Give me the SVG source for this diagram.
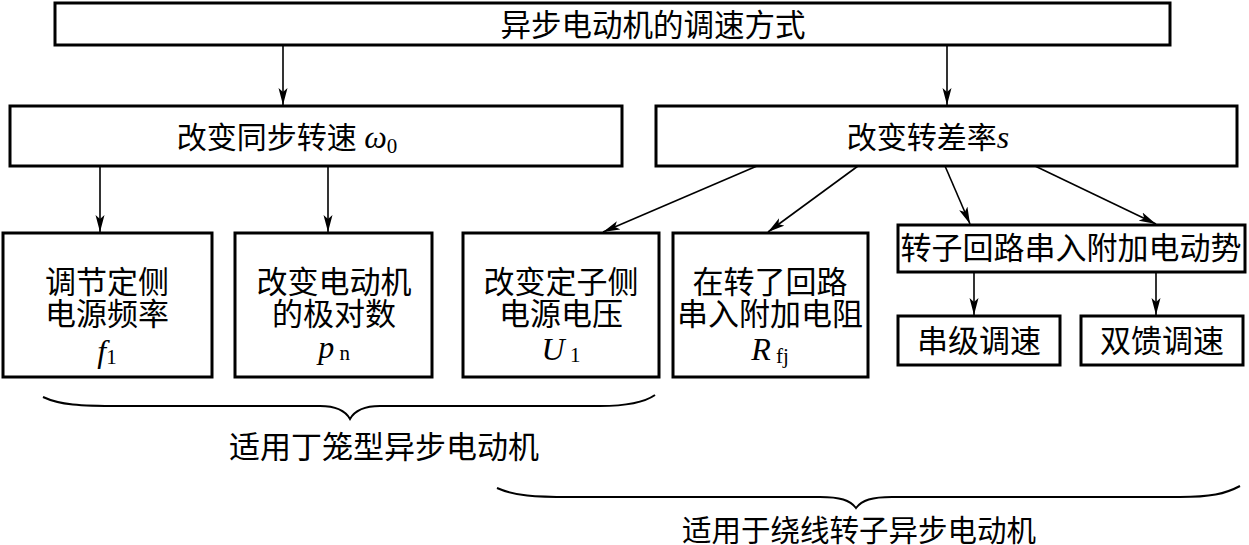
<svg xmlns="http://www.w3.org/2000/svg" width="1249" height="545" viewBox="0 0 1249 545">
<defs>
<marker id="ah" markerUnits="userSpaceOnUse" markerWidth="18" markerHeight="10" refX="17" refY="5" orient="auto">
<path d="M0,0.5 L17,5 L0,9.5 L4,5 z" fill="#000"/>
</marker>
<style>
.box{fill:#fff;stroke:#000;stroke-width:3}
.t{font-family:"Liberation Serif","Noto Sans CJK SC",serif;fill:#000;text-anchor:middle}
.c{stroke:#000;stroke-width:1.6;fill:none;marker-end:url(#ah)}
.br{stroke:#000;stroke-width:2;fill:none}
.i{font-style:italic}
</style>
</defs>
<rect width="1249" height="545" fill="#fff"/>
<g id="connectors">
<line class="c" x1="283" y1="45" x2="283" y2="105"/>
<line class="c" x1="947" y1="45" x2="947" y2="105"/>
<line class="c" x1="100" y1="166" x2="100" y2="232"/>
<line class="c" x1="328" y1="166" x2="328" y2="232"/>
<line class="c" x1="757" y1="166" x2="603" y2="232"/>
<line class="c" x1="858" y1="166" x2="768" y2="232"/>
<line class="c" x1="945" y1="166" x2="970" y2="224"/>
<line class="c" x1="1035" y1="166" x2="1156" y2="224"/>
<line class="c" x1="974" y1="272" x2="974" y2="315"/>
<line class="c" x1="1156" y1="272" x2="1156" y2="315"/>
</g>
<g id="root">
<rect class="box" x="55" y="3" width="1115" height="42"/>
<text class="t" x="653" y="36" font-size="30.5">异步电动机的调速方式</text>
</g>
<g id="sync">
<rect class="box" x="10" y="106" width="612" height="60"/>
<text class="t" x="287" y="148" font-size="30">改变同步转速 <tspan class="i" font-size="32">ω</tspan><tspan font-size="21" dy="5">0</tspan></text>
</g>
<g id="slip">
<rect class="box" x="656" y="106" width="581" height="60"/>
<text class="t" x="928" y="148" font-size="30">改变转差率<tspan class="i" font-size="32">s</tspan></text>
</g>
<g id="freq">
<rect class="box" x="3" y="233" width="209" height="144"/>
<text class="t" x="107" y="293" font-size="31">调节定侧</text>
<text class="t" x="107" y="325" font-size="31">电源频率</text>
<text class="t" x="107" y="362" font-size="32"><tspan class="i">f</tspan><tspan font-size="21" dy="2">1</tspan></text>
</g>
<g id="poles">
<rect class="box" x="235" y="233" width="197" height="144"/>
<text class="t" x="334" y="293" font-size="31">改变电动机</text>
<text class="t" x="334" y="325" font-size="31">的极对数</text>
<text class="t" x="334" y="358" font-size="32"><tspan class="i">p</tspan><tspan font-size="21" dy="2"> n</tspan></text>
</g>
<g id="voltage">
<rect class="box" x="463" y="233" width="196" height="144"/>
<text class="t" x="561" y="293" font-size="31">改变定子侧</text>
<text class="t" x="561" y="325" font-size="31">电源电压</text>
<text class="t" x="561" y="360" font-size="32"><tspan class="i">U</tspan><tspan font-size="21" dy="2"> 1</tspan></text>
</g>
<g id="resistor">
<rect class="box" x="673" y="233" width="195" height="144"/>
<text class="t" x="770" y="293" font-size="31">在转了回路</text>
<text class="t" x="770" y="325" font-size="31">串入附加电阻</text>
<text class="t" x="770" y="360" font-size="32"><tspan class="i">R</tspan><tspan font-size="21" dy="3"> fj</tspan></text>
</g>
<g id="emf">
<rect class="box" x="898" y="225" width="347" height="47"/>
<text class="t" x="1071" y="259" font-size="31">转子回路串入附加电动势</text>
</g>
<g id="cascade">
<rect class="box" x="898" y="316" width="162" height="49"/>
<text class="t" x="979" y="352" font-size="31">串级调速</text>
</g>
<g id="dfed">
<rect class="box" x="1081" y="316" width="162" height="49"/>
<text class="t" x="1162" y="352" font-size="31">双馈调速</text>
</g>
<g id="brace1">
<path class="br" d="M43,397 C60,405 80,406 120,406 L320,406 C335,406 345,410 350,419 C355,410 365,406 380,406 L600,406 C630,406 645,402 655,395"/>
<text class="t" x="384" y="458" font-size="31">适用丁笼型异步电动机</text>
</g>
<g id="brace2">
<path class="br" d="M497,488 C515,496 535,497 570,497 L820,497 C840,497 850,500 856,508 C862,500 872,497 892,497 L1180,497 C1210,497 1225,494 1240,486"/>
<text class="t" x="859" y="541" font-size="29.5">适用于绕线转子异步电动机</text>
</g>
</svg>
